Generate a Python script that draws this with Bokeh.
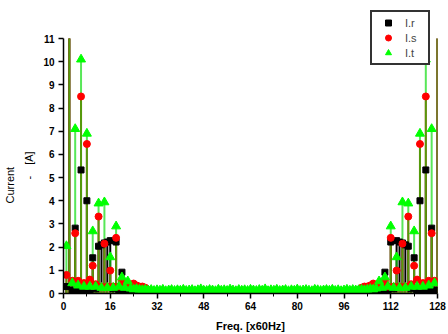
from bokeh.plotting import figure
from bokeh.models import (Range1d, FixedTicker, Legend, LegendItem, ColumnDataSource,
                          Title)
from bokeh.embed import file_html
from bokeh.resources import INLINE

harm = list(range(1, 129))

I_r = [0.30, 22.0, 0.15, 2.82, 0.15, 5.33, 0.10, 4.00, 0.15, 1.54,
       0.20, 2.04, 2.10, 2.18, 2.22, 2.28, 0.20, 2.22, 0.15, 0.92,
       0.10, 0.15, 0.10, 0.10, 0.06, 0.05, 0.04, 0.04, 0.03, 0.03,
       0.02, 0.03, 0.02, 0.01, 0.02, 0.03, 0.01, 0.02, 0.02, 0.01,
       0.02, 0.03, 0.01, 0.02, 0.01, 0.02, 0.03, 0.02, 0.01, 0.02,
       0.01, 0.02, 0.03, 0.02, 0.01, 0.02, 0.02, 0.01, 0.03, 0.02,
       0.01, 0.02, 0.02, 0.01, 0.02, 0.01, 0.02, 0.02, 0.01, 0.02,
       0.03, 0.02, 0.01, 0.02, 0.02, 0.03, 0.01, 0.02, 0.01, 0.02,
       0.03, 0.02, 0.01, 0.02, 0.03, 0.01, 0.02, 0.02, 0.01, 0.03,
       0.02, 0.01, 0.03, 0.02, 0.01, 0.03, 0.02, 0.03, 0.02, 0.03,
       0.03, 0.04, 0.04, 0.05, 0.06, 0.10, 0.10, 0.15, 0.10, 0.92,
       0.15, 2.22, 0.20, 2.28, 2.22, 2.18, 2.10, 2.04, 0.20, 1.54,
       0.15, 4.00, 0.10, 5.33, 0.15, 2.82, 0.15, 22.0]

I_s = [0.80, 22.0, 0.55, 2.60, 0.55, 8.50, 0.45, 6.45, 0.60, 1.20,
       0.40, 3.32, 0.30, 2.15, 0.30, 0.99, 0.30, 2.40, 0.30, 0.55,
       0.30, 0.35, 0.30, 0.43, 0.35, 0.30, 0.30, 0.25, 0.15, 0.10,
       0.06, 0.04, 0.05, 0.03, 0.04, 0.06, 0.03, 0.04, 0.05, 0.03,
       0.04, 0.06, 0.03, 0.05, 0.02, 0.05, 0.04, 0.03, 0.06, 0.04,
       0.03, 0.04, 0.05, 0.03, 0.04, 0.06, 0.02, 0.04, 0.03, 0.05,
       0.04, 0.03, 0.06, 0.02, 0.04, 0.03, 0.06, 0.03, 0.04, 0.05,
       0.03, 0.04, 0.02, 0.05, 0.04, 0.06, 0.03, 0.04, 0.05, 0.03,
       0.04, 0.03, 0.06, 0.04, 0.02, 0.05, 0.04, 0.03, 0.06, 0.04,
       0.03, 0.05, 0.03, 0.04, 0.06, 0.03, 0.04, 0.06, 0.05, 0.10,
       0.15, 0.25, 0.30, 0.30, 0.35, 0.43, 0.30, 0.35, 0.30, 0.55,
       0.30, 2.40, 0.30, 0.99, 0.30, 2.15, 0.30, 3.32, 0.40, 1.20,
       0.60, 6.45, 0.45, 8.50, 0.55, 2.60, 0.55, 22.0]

I_t = [2.05, 22.0, 0.45, 7.10, 0.35, 10.10, 0.30, 6.90, 0.30, 2.69,
       0.30, 3.89, 0.25, 3.94, 0.25, 1.57, 0.25, 2.90, 0.30, 0.70,
       0.25, 0.53, 0.22, 0.18, 0.20, 0.17, 0.15, 0.17, 0.14, 0.16,
       0.12, 0.15, 0.13, 0.17, 0.11, 0.14, 0.16, 0.12, 0.15, 0.13,
       0.17, 0.12, 0.14, 0.16, 0.11, 0.15, 0.19, 0.13, 0.12, 0.16,
       0.14, 0.11, 0.17, 0.13, 0.15, 0.12, 0.18, 0.14, 0.11, 0.16,
       0.13, 0.15, 0.12, 0.17, 0.14, 0.12, 0.16, 0.13, 0.19, 0.11,
       0.15, 0.13, 0.17, 0.12, 0.14, 0.16, 0.11, 0.15, 0.13, 0.18,
       0.12, 0.14, 0.16, 0.13, 0.11, 0.17, 0.15, 0.12, 0.14, 0.16,
       0.13, 0.17, 0.12, 0.15, 0.11, 0.14, 0.17, 0.13, 0.16, 0.14,
       0.15, 0.17, 0.15, 0.17, 0.20, 0.18, 0.22, 0.53, 0.25, 0.70,
       0.30, 2.90, 0.25, 1.57, 0.25, 3.94, 0.25, 3.89, 0.30, 2.69,
       0.30, 6.90, 0.30, 10.10, 0.35, 7.10, 0.45, 22.0]

x_ticks = [0, 16, 32, 48, 64, 80, 96, 112, 128]
x_minor = [8, 24, 40, 56, 72, 88, 104, 120]
y_ticks = list(range(0, 12))
y_max = 11

# stems are cut at the top of the value axis, as in the chart
src = ColumnDataSource(dict(
    k=harm, r=I_r, s=I_s, t=I_t, z=[0] * len(harm),
    r_top=[min(v, y_max) for v in I_r],
    s_top=[min(v, y_max) for v in I_s],
    t_top=[min(v, y_max) for v in I_t]))

p = figure(width=448, height=334, output_backend="svg", toolbar_location=None,
           x_range=Range1d(0, 128), y_range=Range1d(0, 12.64),
           min_border_left=63, min_border_right=11, min_border_top=0,
           min_border_bottom=41)
p.outline_line_color = None
p.xgrid.visible = False
p.ygrid.visible = False

# stems
p.segment(x0="k", y0="z", x1="k", y1="r_top", source=src, line_color="black", line_width=2)
p.segment(x0="k", y0="z", x1="k", y1="s_top", source=src, line_color="#ee0000", line_width=2)
p.segment(x0="k", y0="z", x1="k", y1="t_top", source=src, line_color="#11dd11",
          line_width=2, line_alpha=0.7)

# markers
rr = p.scatter("k", "r", source=src, marker="square", size=6,
               fill_color="black", line_color="black")
rs = p.scatter("k", "s", source=src, marker="circle", size=7,
               fill_color="#ff0000", line_color="#ff0000")
rt = p.scatter("k", "t", source=src, marker="triangle", size=9,
               fill_color="#00ff00", line_color="#00ff00")

font = "Liberation Sans"
for ax in (p.xaxis[0], p.yaxis[0]):
    ax.major_label_text_font = font
    ax.major_label_text_font_style = "bold"
    ax.major_label_text_font_size = "10px"
    ax.major_label_text_color = "black"
    ax.axis_line_color = "black"
    ax.axis_line_width = 1.5
    ax.major_tick_line_color = "black"
    ax.major_tick_line_width = 1.5
    ax.major_tick_out = 5
    ax.major_tick_in = 0
    ax.axis_label_text_font = font
    ax.axis_label_text_font_size = "11px"
    ax.axis_label_text_color = "black"

p.xaxis.ticker = FixedTicker(ticks=x_ticks, minor_ticks=x_minor)
p.xaxis.minor_tick_out = 3
p.xaxis.minor_tick_in = 0
p.xaxis.minor_tick_line_color = "black"
p.xaxis.major_label_standoff = 3
p.xaxis.axis_label = "Freq. [x60Hz]"
p.xaxis.axis_label_text_font_style = "bold"
p.xaxis.axis_label_standoff = 7

p.yaxis.ticker = FixedTicker(ticks=y_ticks)
p.yaxis.bounds = (0, y_max)
p.yaxis.minor_tick_line_color = None
p.yaxis.major_label_standoff = 4

# two-line value-axis title, placed as two side titles
unit_title = Title(text="-\u2002\u2002[A]", align="left", offset=114, standoff=11,
                   text_font=font, text_font_size="11px", text_font_style="normal",
                   text_color="black")
name_title = Title(text="Current", align="left", offset=90, standoff=0,
                   text_font=font, text_font_size="11px", text_font_style="normal",
                   text_color="black")
p.add_layout(unit_title, "left")
p.add_layout(name_title, "left")

legend = Legend(items=[LegendItem(label="I.r", renderers=[rr]),
                       LegendItem(label="I.s", renderers=[rs]),
                       LegendItem(label="I.t", renderers=[rt])],
                location=(307, 228))
legend.label_text_font = font
legend.label_text_font_size = "11px"
legend.label_height = 15
legend.glyph_height = 15
legend.glyph_width = 26
legend.spacing = 0
legend.padding = 3
legend.margin = 0
legend.label_standoff = 4
legend.border_line_color = "#333333"
legend.border_line_alpha = 1.0
legend.border_line_width = 2
legend.background_fill_color = "white"
legend.background_fill_alpha = 1
p.add_layout(legend, "center")

open("out.html", "w").write(file_html(p, INLINE))
